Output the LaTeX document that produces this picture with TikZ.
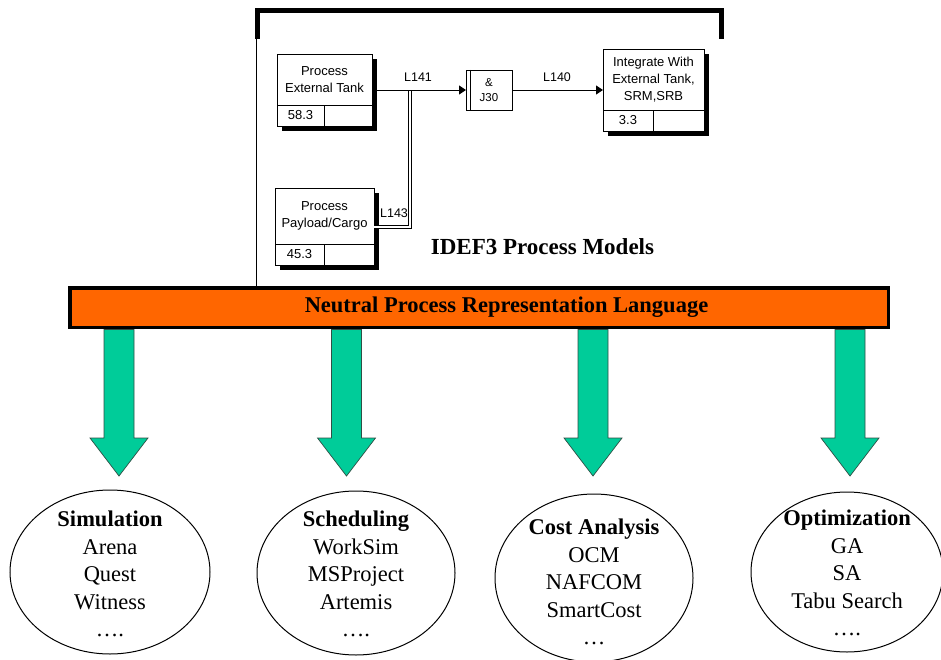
\documentclass[tikz,border=0pt]{standalone}
\usepackage{fontspec}
\setmainfont{Liberation Serif}
\newfontfamily\idefsans{Liberation Sans}
\usetikzlibrary{arrows.meta,positioning,shapes.geometric,shadows,calc}
\definecolor{BarOrange}{HTML}{FF6600}
\definecolor{ArrowTeal}{HTML}{00CC99}
\definecolor{ArrowEdge}{HTML}{2F4F45}

\begin{document}
\begin{tikzpicture}[x=1pt, y=-1pt,
    unit/.style={rectangle, draw, fill=white, line width=0.9pt, outer sep=0pt, inner sep=0pt, align=center, font=\idefsans\fontsize{13}{17}\selectfont},
    shade/.style={drop shadow={shadow xshift=5pt, shadow yshift=-5pt, fill=black, opacity=1}},
    cell/.style={unit, minimum height=21pt},
    junction/.style={rectangle, draw, fill=white, line width=0.9pt, outer sep=0pt, inner sep=0pt, align=center, minimum width=46pt, minimum height=40pt, font=\idefsans\fontsize{11.5}{15}\selectfont},
    link/.style={line width=0.9pt, -{Triangle[length=7pt,width=9pt]}},
    twin/.style={double, double distance=2.6pt, line width=0.8pt},
    linklabel/.style={font=\idefsans\fontsize{12.5}{15}\selectfont, inner sep=1pt},
    tool/.style={ellipse, draw, line width=1pt, inner sep=0pt},
    toollist/.style={align=center, inner sep=0pt, font=\fontsize{22.5}{27.5}\selectfont},
    fatarrow/.style={fill=ArrowTeal, draw=ArrowEdge, line width=0.7pt},
]
    \useasboundingbox (0,0) rectangle (941,660);

    % IDEF3 frame
    \fill[white] (256,10) rectangle (721,288);
    \draw[line width=1pt] (256,39) -- (256,288);
    \draw[line width=5pt] (257.5,39) |- (721,10.5) -- (721,39);

    % units of behaviour
    \node[unit, shade, minimum width=95pt, minimum height=51pt] (tank) at (324.5,79.5) {Process\\External Tank};
    \node[cell, shade, minimum width=47pt, below right=0pt and 0pt of tank.south west] (tanktime) {58.3};
    \node[cell, shade, minimum width=48pt, right=0pt of tanktime] (tankcost) {};

    \node[unit, shade, minimum width=99pt, minimum height=56pt] (payload) at (324.5,216) {Process\\Payload/Cargo};
    \node[cell, shade, minimum width=49pt, below right=0pt and 0pt of payload.south west] (payloadtime) {45.3};
    \node[cell, shade, minimum width=50pt, right=0pt of payloadtime] (payloadcost) {};

    \node[unit, shade, minimum width=101pt, minimum height=61pt] (integ) at (653.5,79.5) {Integrate With\\External Tank,\\SRM,SRB};
    \node[cell, shade, minimum width=50pt, below right=0pt and 0pt of integ.south west] (integtime) {3.3};
    \node[cell, shade, minimum width=51pt, right=0pt of integtime] (integcost) {};

    % junction
    \node[junction] (join) at (489,90) {\&\\J30};
    \draw[line width=0.9pt] ([xshift=4pt]join.north west) -- ([xshift=4pt]join.south west);

    % links
    \coordinate (merge) at (410,90);
    \draw[twin] ([yshift=-11pt]payload.east) -| (merge);
    \draw[link] (tank.east |- join.west) -- (join.west);
    \draw[link] (join.east) -- (integ.west |- join.east);
    \node[linklabel] (l141) at (418,77) {L141};
    \node[linklabel] (l140) at (557,77) {L140};
    \node[linklabel] (l143) at (394,213) {L143};

    \node[font=\bfseries\fontsize{23}{27}\selectfont] (ideftitle) at (542.5,247) {IDEF3 Process Models};

    % neutral language bar
    \node[draw, line width=3.5pt, fill=BarOrange, minimum width=818.5pt, minimum height=39.5pt, inner sep=0pt] (nprl) at (479,307.5) {};
    \node[font=\bfseries\fontsize{22.5}{27}\selectfont] (nprltext) at (506.5,307) {Neutral Process Representation Language};

    % translators
    \foreach \x in {119,346.5,593,850}
        \filldraw[fatarrow] (\x-15,329.5) -- (\x+15,329.5) -- (\x+15,438) -- (\x+29,438)
            -- (\x,476) -- (\x-29,438) -- (\x-15,438) -- cycle;

    % application tools
    \node[tool, minimum width=200pt, minimum height=164pt] (sim) at (110,572) {};
    \node[tool, minimum width=198pt, minimum height=164pt] (sched) at (356,573) {};
    \node[tool, minimum width=198pt, minimum height=168pt] (cost) at (594,578) {};
    \node[tool, minimum width=192pt, minimum height=160pt] (optim) at (847,572) {};

    \node[toollist] (simlist) at ([yshift=-2pt]sim.center) {\textbf{Simulation}\\Arena\\Quest\\Witness\\….};
    \node[toollist] (schedlist) at ([yshift=-1pt]sched.center) {\textbf{Scheduling}\\WorkSim\\MSProject\\Artemis\\….};
    \node[toollist] (costlist) at ([yshift=-4pt]cost.center) {\textbf{Cost Analysis}\\OCM\\NAFCOM\\SmartCost\\…};
    \node[toollist] (optimlist) at ([yshift=-1pt]optim.center) {\textbf{Optimization}\\GA\\SA\\Tabu Search\\….};
\end{tikzpicture}
\end{document}
